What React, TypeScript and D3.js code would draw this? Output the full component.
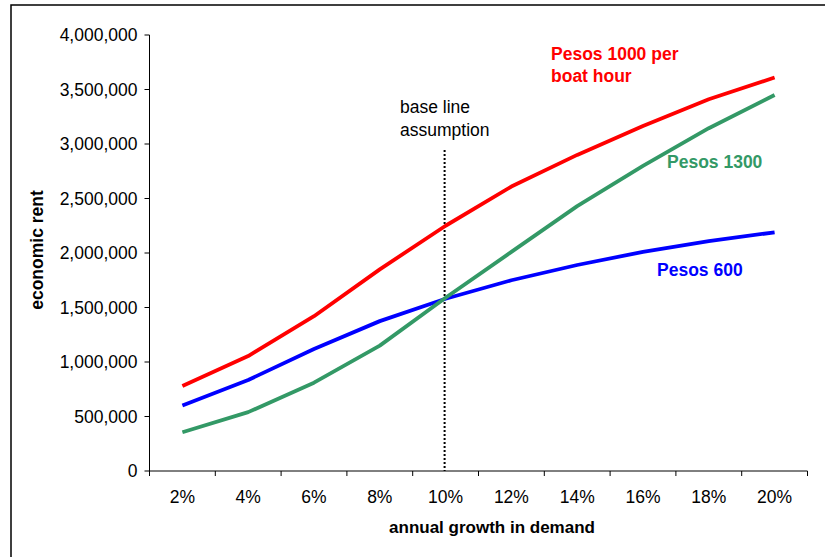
import React from "react";
import * as d3 from "d3";

const categories = ["2%", "4%", "6%", "8%", "10%", "12%", "14%", "16%", "18%", "20%"];
const pesos1000 = [780000, 1055000, 1420000, 1850000, 2250000, 2610000, 2900000, 3165000, 3410000, 3610000];
const pesos600 = [600000, 835000, 1120000, 1375000, 1580000, 1750000, 1890000, 2010000, 2110000, 2190000];
const pesos1300 = [355000, 540000, 810000, 1150000, 1590000, 2010000, 2430000, 2800000, 3145000, 3450000];
const yTicks = [0, 500000, 1000000, 1500000, 2000000, 2500000, 3000000, 3500000, 4000000];
const baseline = "10%";

const W = 825, H = 557;
const left = 149.5, right = 807.5, top = 35, bottom = 471;

export default function App() {
  const x = d3.scaleBand<string>().domain(categories).range([left, right]);
  const y = d3.scaleLinear().domain([0, 4000000]).range([bottom, top]);
  const line = d3.line<number>()
    .x((_, i) => (x(categories[i]) as number) + x.bandwidth() / 2)
    .y((d) => y(d));
  const fmt = d3.format(",");
  const font = "'Liberation Sans', Arial, sans-serif";
  const series = [
    { vals: pesos600, color: "#0000FF" },
    { vals: pesos1300, color: "#339966" },
    { vals: pesos1000, color: "#FF0000" },
  ];
  const bx = (x(baseline) as number) + x.bandwidth() / 2;
  return (
    <svg width={W} height={H} style={{ position: "absolute", left: 0, top: 0 }} fontFamily={font}>
      <rect x={0} y={0} width={W} height={H} fill="#fff" />
      <rect x={11} y={5} width={W + 20} height={H + 20} fill="none" stroke="#000" strokeWidth={1.5} />
      {/* y axis */}
      <line x1={left} x2={left} y1={top} y2={bottom} stroke="#000" strokeWidth={1} />
      {yTicks.map((t) => (
        <g key={t}>
          <line x1={left - 5} x2={left} y1={y(t)} y2={y(t)} stroke="#000" />
          <text x={left - 12} y={y(t)} dy="0.35em" textAnchor="end" fontSize={17.5} fill="#000">{fmt(t)}</text>
        </g>
      ))}
      {/* x axis */}
      <line x1={left} x2={right} y1={bottom} y2={bottom} stroke="#000" />
      {[...categories.map((c) => x(c) as number), right].map((px, i) => (
        <line key={i} x1={px} x2={px} y1={bottom} y2={bottom + 5} stroke="#000" />
      ))}
      {categories.map((c) => (
        <text key={c} x={(x(c) as number) + x.bandwidth() / 2} y={503} textAnchor="middle" fontSize={17.5} fill="#000">{c}</text>
      ))}
      <text x={492} y={533} textAnchor="middle" fontSize={17} fontWeight="bold" fill="#000">annual growth in demand</text>
      <text transform={`translate(43,250) rotate(-90)`} textAnchor="middle" fontSize={17.5} fontWeight="bold" fill="#000">economic rent</text>
      {/* baseline */}
      <line x1={bx - 1} x2={bx - 1} y1={150} y2={bottom} stroke="#000" strokeWidth={2} strokeDasharray="2,2" />
      <text x={400} y={113} fontSize={17.5} fill="#000">base line</text>
      <text x={400} y={136} fontSize={17.5} fill="#000">assumption</text>
      {series.map((s, i) => (
        <path key={i} d={line(s.vals) as string} fill="none" stroke={s.color} strokeWidth={3.8} strokeLinejoin="round" />
      ))}
      <text x={551} y={60} fontSize={17.5} fontWeight="bold" fill="#FF0000">Pesos 1000 per</text>
      <text x={551} y={82} fontSize={17.5} fontWeight="bold" fill="#FF0000">boat hour</text>
      <text x={667} y={168} fontSize={17.5} fontWeight="bold" fill="#339966">Pesos 1300</text>
      <text x={657} y={276} fontSize={17.5} fontWeight="bold" fill="#0000FF">Pesos 600</text>
    </svg>
  );
}
